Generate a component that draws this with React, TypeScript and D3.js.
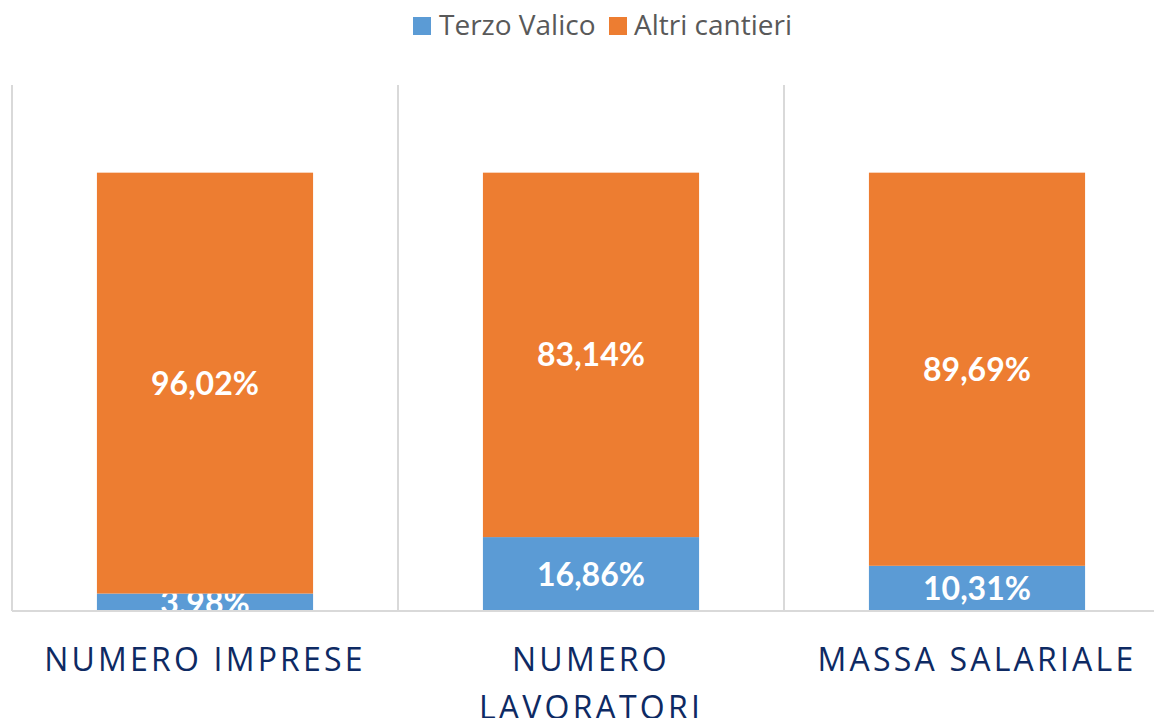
import React, { useEffect, useRef } from "react";
import * as d3 from "d3";

const categories = ["NUMERO IMPRESE", "NUMERO LAVORATORI", "MASSA SALARIALE"];
const terzoValico = [3.98, 16.86, 10.31];
const altriCantieri = [96.02, 83.14, 89.69];
const seriesNames = ["Terzo Valico", "Altri cantieri"];
const seriesColors = ["#5B9BD5", "#ED7D31"];

const W = 1154;
const H = 718;

function wrap(sel: any, width: number, lineH: number) {
  sel.each(function (this: any) {
    const text = d3.select(this);
    const words = text.text().split(/\s+/);
    const x = text.attr("x");
    const y = text.attr("y");
    text.text(null);
    let line: string[] = [];
    let lineNo = 0;
    let tspan = text.append("tspan").attr("x", x).attr("y", y);
    words.forEach((w) => {
      line.push(w);
      tspan.text(line.join(" "));
      if ((tspan.node() as any).getComputedTextLength() > width && line.length > 1) {
        line.pop();
        tspan.text(line.join(" "));
        line = [w];
        lineNo++;
        tspan = text.append("tspan").attr("x", x).attr("y", +y + lineNo * lineH).text(w);
      }
    });
  });
}

export default function App() {
  const ref = useRef<SVGSVGElement>(null);

  useEffect(() => {
    const svg = d3.select(ref.current);
    svg.selectAll("*").remove();

    const top = 85, base = 611;
    const x = d3.scaleBand().domain(categories).range([12, 1170]).padding(0);
    const y = d3.scaleLinear().domain([0, 120]).range([base, top]);
    const barW = x.bandwidth() * 0.56;

    const rows = categories.map((c, i) => ({ cat: c, tv: terzoValico[i], ac: altriCantieri[i] }));
    const stacked = d3.stack<any>().keys(["tv", "ac"])(rows);

    svg.append("defs").append("clipPath").attr("id", "plot")
      .append("rect").attr("x", 0).attr("y", top).attr("width", W).attr("height", base - top);

    // vertical separators
    const seps = categories.map((c) => x(c) as number).concat([x.range()[1]]);
    svg.selectAll(".sep").data(seps).join("line")
      .attr("x1", (d) => d).attr("x2", (d) => d)
      .attr("y1", top).attr("y2", base)
      .attr("stroke", "#D9D9D9").attr("stroke-width", 2);

    const plot = svg.append("g").attr("clip-path", "url(#plot)");
    stacked.forEach((s, si) => {
      plot.selectAll(".bar" + si).data(s).join("rect")
        .attr("x", (d: any) => (x(d.data.cat) as number) + (x.bandwidth() - barW) / 2)
        .attr("y", (d: any) => y(d[1]))
        .attr("width", barW)
        .attr("height", (d: any) => y(d[0]) - y(d[1]))
        .attr("fill", seriesColors[si]);
      plot.selectAll(".lbl" + si).data(s).join("text")
        .attr("x", (d: any) => (x(d.data.cat) as number) + x.bandwidth() / 2)
        .attr("y", (d: any) => (y(d[0]) + y(d[1])) / 2)
        .attr("dy", "0.36em")
        .attr("text-anchor", "middle")
        .attr("fill", "#fff")
        .attr("font-family", "Lato, 'Open Sans', sans-serif")
        .attr("font-weight", "bold")
        .attr("font-size", 32)
        .text((d: any) => (d[1] - d[0]).toFixed(2).replace(".", ",") + "%");
    });

    // baseline
    svg.append("line").attr("x1", 12).attr("x2", W).attr("y1", base).attr("y2", base)
      .attr("stroke", "#D9D9D9").attr("stroke-width", 2);

    // category labels
    svg.selectAll(".cat").data(categories).join("text")
      .attr("x", (d) => (x(d) as number) + x.bandwidth() / 2)
      .attr("y", 671)
      .attr("text-anchor", "middle")
      .attr("fill", "#0E2A63")
      .attr("font-family", "'Open Sans', sans-serif")
      .attr("font-size", 32)
      .attr("letter-spacing", 3.2)
      .text((d) => d)
      .call(wrap, x.bandwidth() - 30, 48);

    // legend
    const leg = svg.append("g").attr("font-family", "'Open Sans', sans-serif").attr("font-size", 28).attr("fill", "#595959");
    const items = [{ x: 413, tx: 439 }, { x: 609, tx: 634 }];
    seriesNames.forEach((n, i) => {
      leg.append("rect").attr("x", items[i].x).attr("y", 17).attr("width", 18).attr("height", 18).attr("fill", seriesColors[i]);
      leg.append("text").attr("x", items[i].tx).attr("y", 35).text(n);
    });
  }, []);

  return (
    <svg ref={ref} width={W} height={H} style={{ position: "absolute", left: 0, top: 0, background: "#fff" }} />
  );
}
